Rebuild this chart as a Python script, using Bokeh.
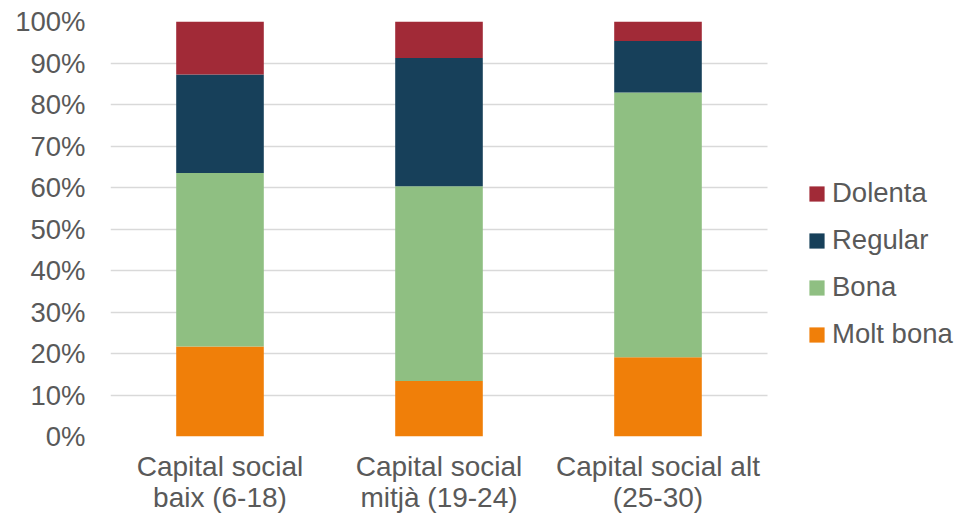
from bokeh.plotting import figure
from bokeh.models import ColumnDataSource, Range1d, Legend, LegendItem, NumeralTickFormatter, FixedTicker
from bokeh.embed import file_html
from bokeh.resources import INLINE

categories = ["Capital social\nbaix (6-18)", "Capital social\nmitjà (19-24)", "Capital social alt\n(25-30)"]
molt_bona = [0.217, 0.134, 0.191]
bona = [0.418, 0.469, 0.638]
regular = [0.237, 0.309, 0.124]
dolenta = [0.128, 0.088, 0.047]
series = ["Molt bona", "Bona", "Regular", "Dolenta"]
colors = ["#F07F09", "#8FBF82", "#17405A", "#A12A37"]

xpos = list(range(len(categories)))
src = ColumnDataSource(dict(x=xpos, **{"Molt bona": molt_bona, "Bona": bona, "Regular": regular, "Dolenta": dolenta}))

W, H = 957, 515
L, T, R, B = 110, 21, 957, 436
unit = (767 - L) / len(categories)
x_end = -0.5 + (R - L) / unit
p = figure(x_range=Range1d(-0.5, x_end), y_range=Range1d(0, 1),
           width=W, height=H, output_backend="svg", toolbar_location=None,
           min_border_left=L, min_border_top=T, min_border_right=W - R, min_border_bottom=H - B)
p.outline_line_color = None
rs = p.vbar_stack(series, x="x", width=0.4, color=colors, line_color=None, source=src)

font = "Liberation Sans"
p.yaxis.ticker = FixedTicker(ticks=[i / 10 for i in range(11)])
p.yaxis.formatter = NumeralTickFormatter(format="0%")
p.xaxis.ticker = FixedTicker(ticks=xpos)
p.xaxis.major_label_overrides = {i: c for i, c in zip(xpos, categories)}
for ax in (p.xaxis, p.yaxis):
    ax.major_label_text_font = font
    ax.major_label_text_color = "#595959"
    ax.major_tick_line_color = None
    ax.minor_tick_line_color = None
p.yaxis.major_label_text_font_size = "27.5px"
p.xaxis.major_label_text_font_size = "28px"
p.yaxis.axis_line_color = None
p.yaxis.major_label_standoff = 19
p.xaxis.axis_line_color = None
p.xaxis.major_label_standoff = 8
p.xaxis.major_label_text_line_height = 1.0
p.xgrid.grid_line_color = None
p.ygrid.grid_line_color = "#d9d9d9"
p.ygrid.grid_line_width = 1.5
p.ygrid.cross_bounds = (-0.5, 2.5)

items = [LegendItem(label=s, renderers=[r]) for s, r in zip(series, rs)][::-1]
legend = Legend(items=items, location=(697, 86), orientation="vertical",
                label_text_font=font, label_text_font_size="27.5px", label_text_color="#595959",
                glyph_width=19, glyph_height=19, label_height=20, spacing=15, label_standoff=6,
                padding=0, margin=0, border_line_color=None, background_fill_alpha=0)
p.add_layout(legend)

open("out.html", "w").write(file_html(p, INLINE))
